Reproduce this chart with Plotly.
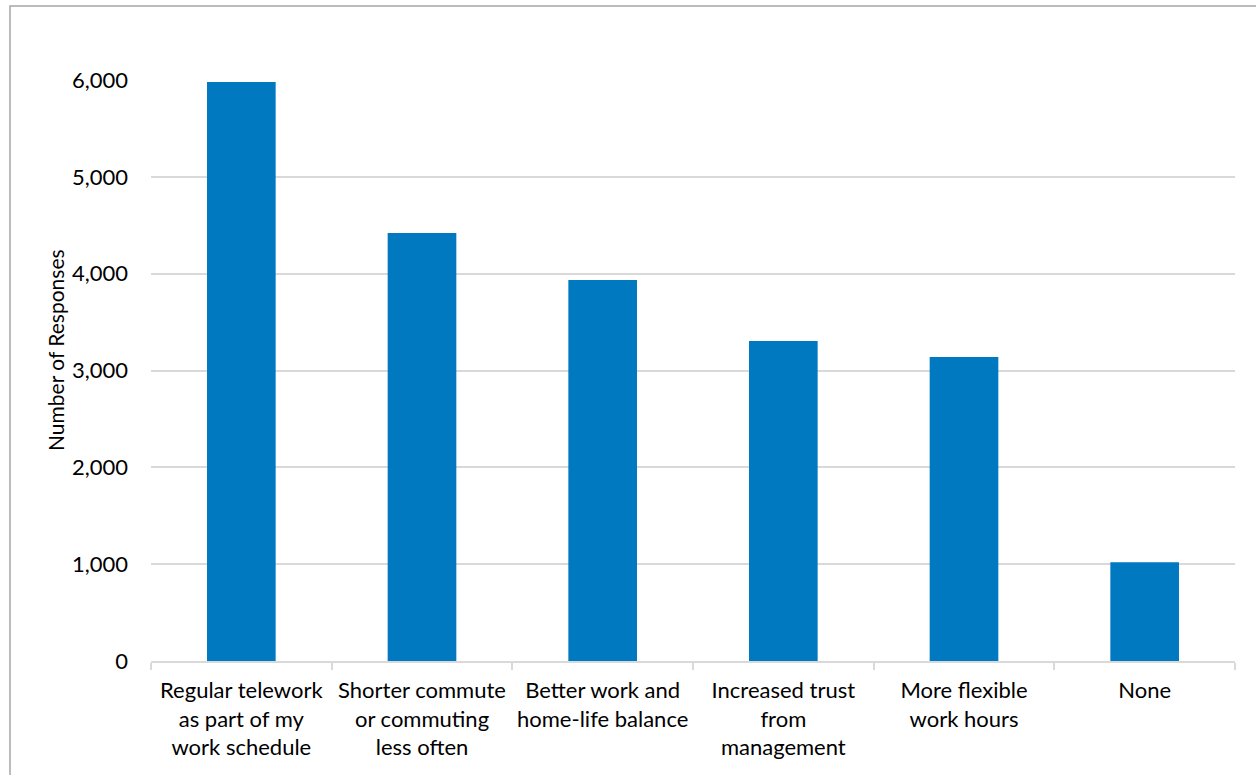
import plotly.graph_objects as go

categories = [
    "Regular telework<br>as part of my<br>work schedule",
    "Shorter commute<br>or commuting<br>less often",
    "Better work and<br>home-life balance",
    "Increased trust<br>from<br>management",
    "More flexible<br>work hours",
    "None",
]
responses = [5980, 4420, 3935, 3305, 3140, 1020]
y_ticks = [0, 1000, 2000, 3000, 4000, 5000, 6000]
y_ticktext = ["0", "1,000", "2,000", "3,000", "4,000", "5,000", "6,000"]

W, H = 1256, 775
L, R, T, B = 151, 21, 80, 114
pw, ph = W - L - R, H - T - B

FONT = "Lato, Carlito, Calibri, sans-serif"

fig = go.Figure(
    go.Bar(
        x=categories,
        y=responses,
        marker=dict(color="#0079c1", line=dict(width=0)),
        width=0.38,
    )
)

fig.update_layout(
    width=W,
    height=H,
    margin=dict(l=L, r=R, t=T, b=B, pad=0, autoexpand=False),
    paper_bgcolor="white",
    plot_bgcolor="white",
    showlegend=False,
    font=dict(family=FONT, color="#000000"),
    bargap=0.62,
)

fig.update_xaxes(
    type="category",
    showline=True,
    linecolor="#d9d9d9",
    linewidth=1.5,
    ticks="outside",
    tickson="boundaries",
    ticklen=7,
    tickcolor="#d9d9d9",
    tickwidth=1.5,
    tickfont=dict(size=22, family=FONT),
    tickangle=0,
    automargin=False,
    ticklabelstandoff=9,
    showgrid=False,
)

fig.update_yaxes(
    range=[0, 6000],
    tickvals=y_ticks,
    ticktext=y_ticktext,
    tickfont=dict(size=22, family=FONT),
    showgrid=True,
    gridcolor="#d9d9d9",
    gridwidth=1.5,
    zeroline=False,
    showline=False,
    ticks="",
    automargin=False,
    ticklabelstandoff=22,
)

fig.add_annotation(
    text="Number of Responses",
    xref="paper", yref="paper",
    x=(55 - L) / pw, y=(H - B - 350) / ph,
    textangle=-90,
    showarrow=False,
    font=dict(size=21, family=FONT),
    xanchor="center", yanchor="middle",
)

# chart outer border
fig.add_shape(
    type="rect",
    xref="paper", yref="paper",
    x0=(10 - L) / pw, x1=(W + 20 - L) / pw,
    y0=-(H + 20 - (H - B)) / ph, y1=(H - B - 6) / ph,
    line=dict(color="#a6a6a6", width=1.5),
    fillcolor="rgba(0,0,0,0)",
    layer="below",
)

fig.write_html("out.html")
